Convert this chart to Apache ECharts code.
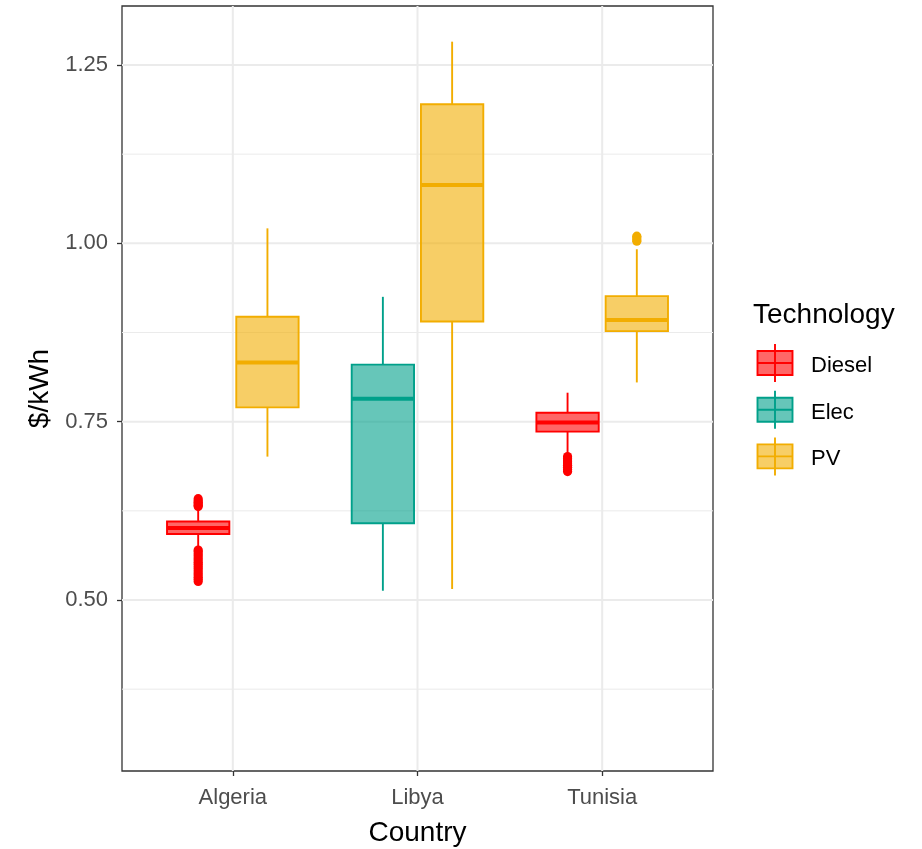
<!DOCTYPE html>
<html>
<head>
<meta charset="utf-8">
<script src="https://cdn.jsdelivr.net/npm/echarts@6/dist/echarts.min.js"></script>
<style>
html,body{margin:0;padding:0;background:#fff;}
#chart{width:922px;height:849px;}
</style>
</head>
<body>
<div id="chart"></div>
<script>
// ---- data ----
const countries = ['Algeria', 'Libya', 'Tunisia'];
const techNames = ['Diesel', 'Elec', 'PV'];
const techColors = ['#FF0000', '#00A08A', '#F2AD00'];

// stats per box: [lower whisker, Q1, median, Q3, upper whisker]
const dieselCountry = ['Algeria', 'Tunisia'];
const dieselStats = [
  [0.575, 0.5925, 0.601, 0.610, 0.626],
  [0.706, 0.736, 0.749, 0.7626, 0.7906]
];
const dieselOutliers = [
  [0.526, 0.529, 0.532, 0.535, 0.538, 0.541, 0.544, 0.547, 0.550, 0.553, 0.556, 0.559, 0.562, 0.565, 0.568, 0.570,
   0.631, 0.633, 0.635, 0.637, 0.639, 0.642],
  [0.680, 0.683, 0.686, 0.689, 0.692, 0.695, 0.698, 0.701]
];

const elecCountry = ['Libya'];
const elecStats = [
  [0.513, 0.6075, 0.782, 0.830, 0.925]
];
const elecOutliers = [[]];

const pvCountry = ['Algeria', 'Libya', 'Tunisia'];
const pvStats = [
  [0.701, 0.770, 0.833, 0.897, 1.021],
  [0.5154, 0.8905, 1.0818, 1.195, 1.2827],
  [0.805, 0.877, 0.8925, 0.926, 0.9917]
];
const pvOutliers = [[], [], [1.003, 1.005, 1.008, 1.010]];

const yTicks = [0.5, 0.75, 1.0, 1.25];
const yMinorTicks = [0.375, 0.625, 0.875, 1.125];
const xTicks = [1, 2, 3];

// ---- layout helpers ----
const techCountries = [dieselCountry, elecCountry, pvCountry];
const techStats = [dieselStats, elecStats, pvStats];
const techOutliers = [dieselOutliers, elecOutliers, pvOutliers];
const dodgeWidth = 0.75;
const boxPad = 0.1;

function presentTechs(country) {
  const res = [];
  techCountries.forEach((list, t) => { if (list.indexOf(country) >= 0) res.push(t); });
  return res;
}

function alpha(hex, a) {
  const r = parseInt(hex.slice(1, 3), 16), g = parseInt(hex.slice(3, 5), 16), b = parseInt(hex.slice(5, 7), 16);
  return 'rgba(' + r + ',' + g + ',' + b + ',' + a + ')';
}

function boxSeries(t) {
  const color = techColors[t];
  const data = techCountries[t].map((c, i) => {
    const ci = countries.indexOf(c);
    const techs = presentTechs(c);
    const n = techs.length;
    const k = techs.indexOf(t);
    const slot = dodgeWidth / n;
    const xc = ci + 1 + (k - (n - 1) / 2) * slot;
    return [xc].concat(techStats[t][i]);
  });
  return {
    name: techNames[t],
    type: 'custom',
    z: 3,
    data: data,
    encode: { x: 0, y: [1, 2, 3, 4, 5] },
    renderItem: function (params, api) {
      const xc = api.value(0);
      const n = presentTechs(techCountries[t][params.dataIndex]).length;
      const bw = (dodgeWidth / n) * (1 - boxPad);
      const half = api.size([bw, 0])[0] / 2;
      const lo = api.coord([xc, api.value(1)]);
      const q1 = api.coord([xc, api.value(2)]);
      const md = api.coord([xc, api.value(3)]);
      const q3 = api.coord([xc, api.value(4)]);
      const hi = api.coord([xc, api.value(5)]);
      const px = lo[0];
      const lw = 1.9;
      const children = [
        { type: 'line', shape: { x1: px, y1: q3[1], x2: px, y2: hi[1] }, style: { stroke: color, lineWidth: lw } },
        { type: 'line', shape: { x1: px, y1: q1[1], x2: px, y2: lo[1] }, style: { stroke: color, lineWidth: lw } },
        { type: 'rect', shape: { x: px - half, y: q3[1], width: 2 * half, height: q1[1] - q3[1] },
          style: { fill: alpha(color, 0.6), stroke: color, lineWidth: lw } },
        { type: 'line', shape: { x1: px - half, y1: md[1], x2: px + half, y2: md[1] }, style: { stroke: color, lineWidth: 4 } }
      ];
      (techOutliers[t][params.dataIndex] || []).forEach(v => {
        const p = api.coord([xc, v]);
        children.push({ type: 'circle', shape: { cx: p[0], cy: p[1], r: 4.6 }, style: { fill: color } });
      });
      return { type: 'group', children: children };
    }
  };
}

function gridSeries(values, horizontal, width) {
  return {
    type: 'custom',
    z: 0,
    silent: true,
    data: values.map(v => horizontal ? [2, v] : [v, 0.8]),
    renderItem: function (params, api) {
      const v = horizontal ? api.value(1) : api.value(0);
      const a = horizontal ? api.coord([0.4, v]) : api.coord([v, 0.2603]);
      const b = horizontal ? api.coord([3.6, v]) : api.coord([v, 1.3327]);
      return { type: 'line', shape: { x1: a[0], y1: a[1], x2: b[0], y2: b[1] }, style: { stroke: '#EBEBEB', lineWidth: width } };
    }
  };
}

const FONT = 'Liberation Sans, Arial, sans-serif';

// legend drawn as graphic
const legendChildren = [{
  type: 'text', left: 753, top: 301,
  style: { text: 'Technology', font: '28px ' + FONT, fill: '#000' }
}];
techNames.forEach((name, i) => {
  const cy = 363 + 46.7 * i;
  const col = techColors[i];
  legendChildren.push(
    { type: 'line', shape: { x1: 775, y1: cy - 19, x2: 775, y2: cy + 19 }, style: { stroke: col, lineWidth: 1.9 } },
    { type: 'rect', shape: { x: 757.5, y: cy - 12, width: 35, height: 24 }, style: { fill: alpha(col, 0.6), stroke: col, lineWidth: 1.9 } },
    { type: 'line', shape: { x1: 757.5, y1: cy, x2: 792.5, y2: cy }, style: { stroke: col, lineWidth: 1.9 } },
    { type: 'text', x: 811, y: cy + 3, style: { text: name, font: '22px ' + FONT, fill: '#000', textVerticalAlign: 'middle' } }
  );
});

const chart = echarts.init(document.getElementById('chart'), null, { renderer: 'canvas' });
chart.setOption({
  backgroundColor: '#fff',
  animation: false,
  textStyle: { fontFamily: FONT },
  grid: { left: 122, right: 209, top: 6, bottom: 78, show: true, borderColor: '#333333', borderWidth: 1.3, backgroundColor: 'transparent',
          containLabel: false, outerBoundsMode: 'none' },
  xAxis: {
    type: 'value', min: 0.4, max: 3.6,
    name: 'Country', nameLocation: 'middle', nameGap: 48,
    nameTextStyle: { fontSize: 28, color: '#000', fontFamily: FONT },
    axisLine: { show: false },
    splitLine: { show: false },
    axisTick: { show: true, customValues: xTicks, length: 5, lineStyle: { color: '#333333', width: 1.3 } },
    axisLabel: { customValues: xTicks, fontSize: 22, color: '#4D4D4D', margin: 16, formatter: v => countries[Math.round(v) - 1] || '' }
  },
  yAxis: {
    type: 'value', min: 0.2603, max: 1.3327,
    name: '$/kWh', nameLocation: 'middle', nameGap: 66,
    nameTextStyle: { fontSize: 28, color: '#000', fontFamily: FONT },
    axisLine: { show: false },
    splitLine: { show: false },
    axisTick: { show: true, customValues: yTicks, length: 5, lineStyle: { color: '#333333', width: 1.3 } },
    axisLabel: { customValues: yTicks, fontSize: 22, color: '#4D4D4D', margin: 14, formatter: v => v.toFixed(2) }
  },
  graphic: [{ type: 'group', children: legendChildren }],
  series: [
    gridSeries(yMinorTicks, true, 1),
    gridSeries(yTicks, true, 2),
    gridSeries(xTicks, false, 2),
    boxSeries(0), boxSeries(1), boxSeries(2)
  ]
});
</script>
</body>
</html>
